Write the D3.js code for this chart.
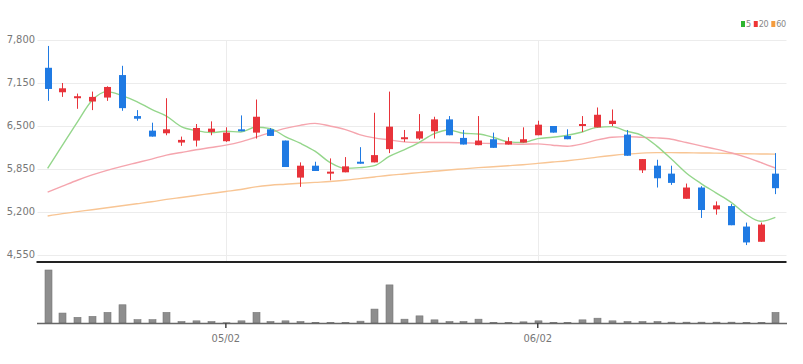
<!DOCTYPE html>
<html lang="ko">
<head>
<meta charset="UTF-8">
<title>Candle Chart</title>
<style>
  body { margin: 0; background: #ffffff; }
  svg { display: block; }
  .tick-label { font-family: "Liberation Sans Narrow", "DejaVu Sans Condensed", sans-serif; font-size: 11px; fill: #777; }
  .legend-text { font-family: "Liberation Sans Narrow", "DejaVu Sans Condensed", sans-serif; font-size: 9px; fill: #888; letter-spacing: -0.4px; }
</style>
<script src="https://d3js.org/d3.v7.min.js"></script>
</head>
<body>
<svg id="chart" width="803" height="364"></svg>
<script>
// trading days (2023)
const dates = ["04/13","04/14","04/17","04/18","04/19","04/20","04/21","04/24","04/25","04/26","04/27","04/28",
  "05/02","05/03","05/04","05/08","05/09","05/10","05/11","05/12","05/15","05/16","05/17","05/18","05/19",
  "05/22","05/23","05/24","05/25","05/26","05/30","05/31","06/01","06/02","06/05","06/07","06/08","06/09",
  "06/12","06/13","06/14","06/15","06/16","06/19","06/20","06/21","06/22","06/23","06/26","06/27"];

const open  = [7380,7010,6920,6870,6930,7270,6650,6430,6390,6250,6280,6410,6270,6450,6400,6450,6280,5720,5900,5790,
  5800,5960,5950,6150,6300,6310,6420,6600,6320,6210,6300,6220,6250,6360,6500,6350,6500,6480,6530,6370,
  5830,5900,5780,5400,5570,5240,5290,4980,4750,5780];
const high  = [7710,7150,6990,7020,7100,7410,6740,6550,6920,6340,6530,6570,6480,6660,6900,6470,6280,5950,5960,6010,
  6030,6180,6700,7020,6440,6680,6640,6650,6440,6650,6400,6330,6480,6580,6500,6450,6650,6780,6750,6440,
  6000,5990,5900,5630,5590,5360,5320,5040,5040,6090];
const low   = [6880,6940,6760,6740,6880,6730,6580,6340,6360,6200,6190,6360,6260,6420,6310,6350,5880,5580,5820,5680,
  5800,5930,5950,6090,6260,6290,6310,6360,6220,6210,6170,6220,6250,6360,6400,6300,6410,6480,6500,6050,
  5790,5570,5610,5400,5110,5160,5000,4700,4750,5470];
const close = [7060,7070,6950,6940,7090,6770,6610,6340,6450,6290,6470,6460,6400,6420,6640,6350,5880,5900,5820,5810,
  5890,5940,6060,6490,6330,6420,6600,6360,6220,6280,6170,6270,6300,6520,6400,6300,6530,6670,6580,6050,
  6000,5710,5640,5570,5230,5300,5000,4740,5010,5560];
const volume = [3200000,600000,340000,400000,640000,1100000,200000,200000,640000,90000,130000,90000,15000,130000,640000,
  90000,130000,90000,40000,20000,20000,110000,840000,2300000,230000,430000,190000,90000,90000,230000,
  30000,30000,70000,130000,30000,30000,190000,290000,130000,90000,90000,90000,50000,50000,50000,
  50000,50000,30000,30000,640000];

const ma5  = [5860,6210,6560,6890,7020,6960,6870,6750,6650,6490,6430,6400,6420,6410,6480,6460,6340,6240,6120,5950,
  5860,5870,5900,6040,6140,6250,6380,6440,6390,6380,6330,6260,6250,6310,6330,6360,6410,6480,6490,6420,
  6360,6200,6000,5790,5630,5490,5350,5170,5060,5120];
const ma20 = [5500,5590,5680,5760,5830,5890,5945,6000,6060,6100,6140,6175,6210,6260,6330,6400,6465,6510,6540,6500,
  6450,6370,6320,6290,6260,6250,6250,6250,6245,6240,6235,6230,6225,6230,6210,6195,6230,6290,6330,6340,
  6330,6320,6300,6250,6200,6150,6095,6030,5950,5865];
const ma60 = [5140,5175,5205,5235,5265,5295,5325,5355,5390,5420,5450,5480,5510,5540,5580,5605,5620,5635,5648,5660,
  5680,5705,5730,5755,5775,5795,5815,5835,5852,5870,5885,5900,5915,5935,5955,5975,6000,6030,6055,6075,
  6090,6097,6097,6095,6092,6090,6085,6080,6077,6075];

const priceTicks = [4550, 5200, 5850, 6500, 7150, 7800];
const dateTicks = ["05/02", "06/02"];
const maNames = ["5", "20", "60"];

const svg = d3.select("#chart");
const left = 36.5, right = 786.5;
const priceTop = 40, priceBottom = 255, axisY = 262;
const volTop = 270, volBottom = 323;

const x = d3.scaleBand().domain(dates).range([left, right]).padding(0.5);
const cx = d => x(d) + x.bandwidth() / 2;
const y = d3.scaleLinear().domain([4550, 7800]).range([priceBottom, priceTop]);
const yVol = d3.scaleLinear().domain([0, d3.max(volume)]).range([volBottom, volTop]);

const upColor = "#e8333a", downColor = "#1f7ae3";

// grid
const grid = svg.append("g");
grid.selectAll(".hgrid").data(priceTicks).enter().append("line")
  .attr("x1", left + 1).attr("x2", right)
  .attr("y1", d => Math.round(y(d)) + 0.5).attr("y2", d => Math.round(y(d)) + 0.5)
  .attr("stroke", "#ececec");
grid.selectAll(".vgrid").data(dateTicks).enter().append("line")
  .attr("x1", d => Math.round(cx(d)) + 0.5).attr("x2", d => Math.round(cx(d)) + 0.5)
  .attr("y1", priceTop).attr("y2", axisY)
  .attr("stroke", "#ececec");

// price labels
svg.append("g").selectAll("text").data(priceTicks).enter().append("text")
  .attr("class", "tick-label")
  .attr("x", 35).attr("y", d => y(d))
  .attr("text-anchor", "end").attr("dominant-baseline", "middle")
  .text(d => d3.format(",")(d));

// moving averages
const maColors = ["#94d68b", "#f5a5ae", "#f8c594"];
[ma60, ma20, ma5].forEach((series, k) => {
  const line = d3.line().x((d, i) => cx(dates[i])).y(d => y(d)).curve(d3.curveMonotoneX);
  svg.append("path").datum(series)
    .attr("fill", "none")
    .attr("stroke", maColors[2 - k])
    .attr("stroke-width", 1.4)
    .attr("d", line);
});

// candles
const candles = svg.append("g").selectAll("g").data(dates).enter().append("g");
const col = i => close[i] >= open[i] ? upColor : downColor;
candles.append("line")
  .attr("x1", (d) => Math.round(cx(d)) + 0.5).attr("x2", (d) => Math.round(cx(d)) + 0.5)
  .attr("y1", (d, i) => y(high[i])).attr("y2", (d, i) => y(low[i]))
  .attr("stroke", (d, i) => col(i)).attr("stroke-width", 1);
candles.append("rect")
  .attr("x", d => Math.round(cx(d)) - 3)
  .attr("width", 7)
  .attr("y", (d, i) => y(Math.max(open[i], close[i])))
  .attr("height", (d, i) => Math.max(2, Math.abs(y(open[i]) - y(close[i]))))
  .attr("fill", (d, i) => col(i));

// separator
svg.append("line")
  .attr("x1", left).attr("x2", right).attr("y1", axisY).attr("y2", axisY)
  .attr("stroke", "#222").attr("stroke-width", 2);

// volume
svg.append("g").selectAll("rect").data(dates).enter().append("rect")
  .attr("x", d => Math.round(cx(d)) - 3)
  .attr("width", 7)
  .attr("y", (d, i) => yVol(volume[i]))
  .attr("height", (d, i) => volBottom - yVol(volume[i]))
  .attr("fill", "#8e8e8e")
  .attr("stroke", "#777").attr("stroke-width", 0.6);

const xAxis = d3.axisBottom(x).tickValues(dateTicks).tickSize(5).tickSizeOuter(0);
const ax = svg.append("g").attr("transform", `translate(0,${volBottom})`).call(xAxis);
ax.select(".domain").attr("stroke", "#666").attr("stroke-width", 1.5);
ax.selectAll(".tick line").attr("stroke", "#444").attr("stroke-width", 1.5);
ax.selectAll(".tick text").attr("class", "tick-label").attr("dy", "0").attr("y", 19)
  .attr("font-family", null).attr("font-size", null).attr("fill", null);

// legend
const legendColors = ["#2fb52f", "#ee3535", "#f59c3d"];
const lg = svg.append("g").attr("transform", "translate(741,0)");
let lx = 0;
maNames.forEach((n, k) => {
  lg.append("rect").attr("x", lx).attr("y", 21).attr("width", 4).attr("height", 6).attr("fill", legendColors[k]);
  const t = lg.append("text").attr("class", "legend-text").attr("x", lx + 5).attr("y", 27).text(n);
  lx += 5 + t.node().getComputedTextLength() + 3;
});
</script>
</body>
</html>
